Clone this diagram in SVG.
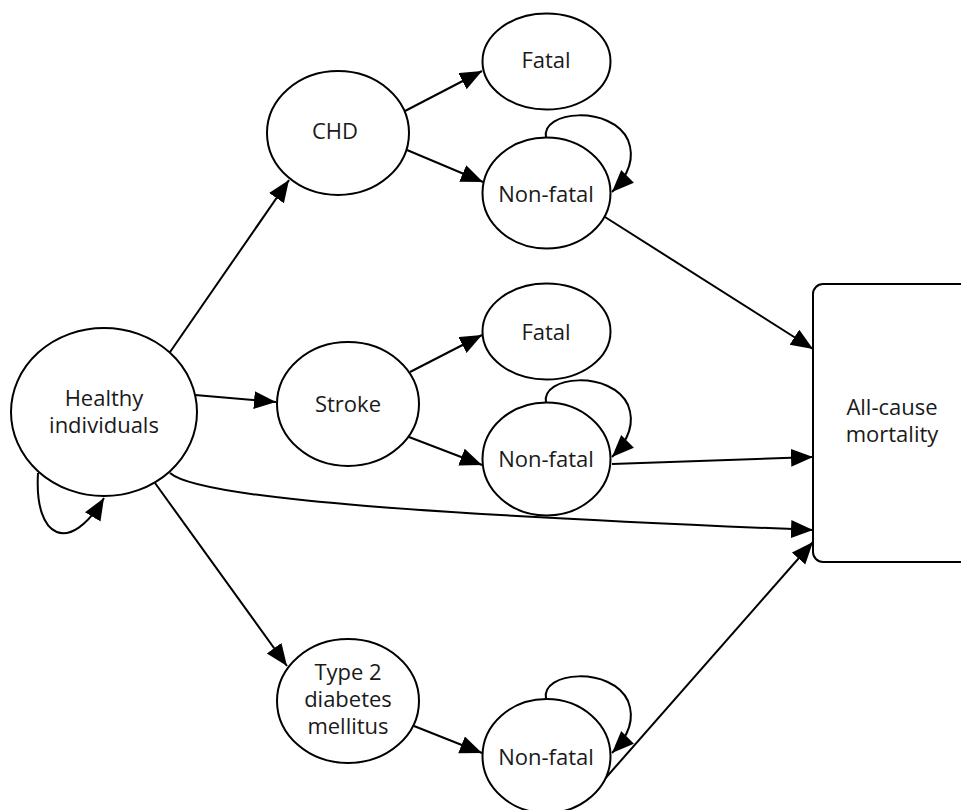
<svg xmlns="http://www.w3.org/2000/svg" width="961" height="810" viewBox="0 0 961 810">
<defs>
<marker id="ah" markerUnits="userSpaceOnUse" markerWidth="24" markerHeight="20" refX="22" refY="9" orient="auto">
<path d="M0,0 L22,9 L0,18 Z" fill="#000"/>
</marker>
<style>
.n{fill:#fff;stroke:#000;stroke-width:2}
.c{fill:none;stroke:#000;stroke-width:2;marker-end:url(#ah)}
text{font-family:"Open Sans","Noto Sans","DejaVu Sans",sans-serif;font-size:22px;fill:#1a1a1a;text-anchor:middle}
</style>
</defs>
<rect width="961" height="810" fill="#fff"/>
<g id="connectors">
<line class="c" x1="168" y1="355" x2="289" y2="180"/>
<line class="c" x1="195" y1="395" x2="276" y2="402"/>
<line class="c" x1="155" y1="483" x2="287" y2="666"/>
<path class="c" d="M170,473 C200,500 450,515 813,530"/>
<path class="c" d="M38,473 C34,540 70,555 104,498"/>
<line class="c" x1="405" y1="111" x2="482" y2="71"/>
<line class="c" x1="407" y1="150" x2="483" y2="182"/>
<path class="c" d="M546,138 C540,110 612,105 628,140 C636,160 626,178 612,192"/>
<line class="c" x1="605" y1="217" x2="813" y2="349"/>
<line class="c" x1="410" y1="372" x2="482" y2="335"/>
<line class="c" x1="409" y1="437" x2="482" y2="465"/>
<path class="c" d="M546,403 C540,375 612,370 628,405 C636,425 626,443 612,457"/>
<line class="c" x1="612" y1="464" x2="813" y2="457"/>
<line class="c" x1="414" y1="726" x2="482" y2="753"/>
<path class="c" d="M546,699 C540,671 612,666 628,701 C636,721 626,739 612,753"/>
<line class="c" x1="603" y1="781" x2="813" y2="542"/>
</g>
<g id="healthy"><ellipse class="n" cx="104" cy="412" rx="93" ry="84"/><text x="104" y="406">Healthy</text><text x="104" y="433">individuals</text></g>
<g id="chd"><ellipse class="n" cx="338" cy="133" rx="71" ry="62"/><text x="335" y="139">CHD</text></g>
<g id="chd-fatal"><ellipse class="n" cx="546.5" cy="61.5" rx="64" ry="48"/><text x="546" y="68">Fatal</text></g>
<g id="chd-nonfatal"><ellipse class="n" cx="546.5" cy="193" rx="64" ry="55.5"/><text x="546" y="201.5">Non-fatal</text></g>
<g id="stroke"><ellipse class="n" cx="348" cy="404" rx="71" ry="62"/><text x="348" y="412">Stroke</text></g>
<g id="stroke-fatal"><ellipse class="n" cx="546.5" cy="331.5" rx="64" ry="48"/><text x="546" y="340">Fatal</text></g>
<g id="stroke-nonfatal"><ellipse class="n" cx="546.5" cy="459" rx="64" ry="56.5"/><text x="546" y="467">Non-fatal</text></g>
<g id="t2dm"><ellipse class="n" cx="348" cy="701" rx="71" ry="62"/><text x="348" y="680">Type 2</text><text x="348" y="707">diabetes</text><text x="348" y="734">mellitus</text></g>
<g id="t2dm-nonfatal"><ellipse class="n" cx="546.5" cy="756" rx="64" ry="57"/><text x="546" y="765">Non-fatal</text></g>
<g id="mortality"><rect class="n" x="813" y="284" width="170" height="278" rx="10"/><text x="892" y="415">All-cause</text><text x="892" y="442">mortality</text></g>
</svg>
